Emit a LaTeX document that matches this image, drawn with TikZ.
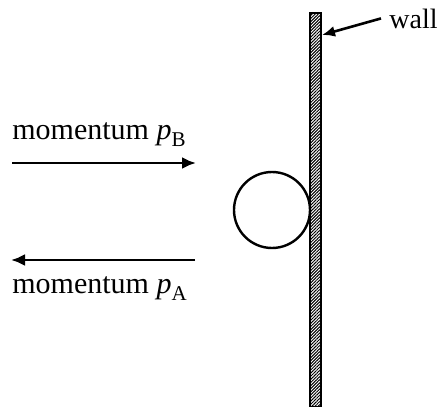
\documentclass[tikz,border=0pt]{standalone}
\usepackage{fontspec}
\setmainfont{Liberation Serif}
\usetikzlibrary{arrows.meta}
\usetikzlibrary{patterns,patterns.meta}
\newcommand{\lowsub}[1]{\raisebox{-3.8pt}{\fontsize{10.5}{12}\selectfont #1}}
\tikzset{
  push/.style={line width=1.4pt, arrows = {-Latex[length=7pt, width=6pt]}},
  label text/.style={inner sep=0pt, anchor=base west},
}

\begin{document}
\begin{tikzpicture}[x=0.5pt, y=-0.5pt, font=\fontsize{15}{18}\selectfont]
    \useasboundingbox (0,0) rectangle (440,407);
    % Wall
    \draw[line width=0.8pt, pattern={Lines[angle=45, distance=1.1pt, line width=0.5pt]}] (310,13) rectangle (321,407);
    \coordinate (hit) at (322,35);
    \node[inner sep=4pt, anchor=base west, font=\fontsize{14}{16}\selectfont] (wall) at (381,28) {wall};
    \draw [line width=1.3pt, -{Latex[length=6.5pt, width=5.5pt]}] (wall.west) -- (hit);
    % Ball
    \node[draw, circle, line width=1.2pt, minimum size=38pt, inner sep=0pt] (ball) at (272,210) {};
    % Momenta
    \coordinate (pBtail) at (12,163);
    \coordinate (pBhead) at (196,163);
    \coordinate (pAtail) at (195,260);
    \coordinate (pAhead) at (11,260);
    \draw [push] (pBtail) -- (pBhead);
    \draw [push] (pAtail) -- (pAhead);
    \node[label text] (pB) at (12,139) {momentum \textit{p}\lowsub{B}};
    \node[label text] (pA) at (12,293) {momentum \textit{p}\lowsub{A}};
\end{tikzpicture}
\end{document}
